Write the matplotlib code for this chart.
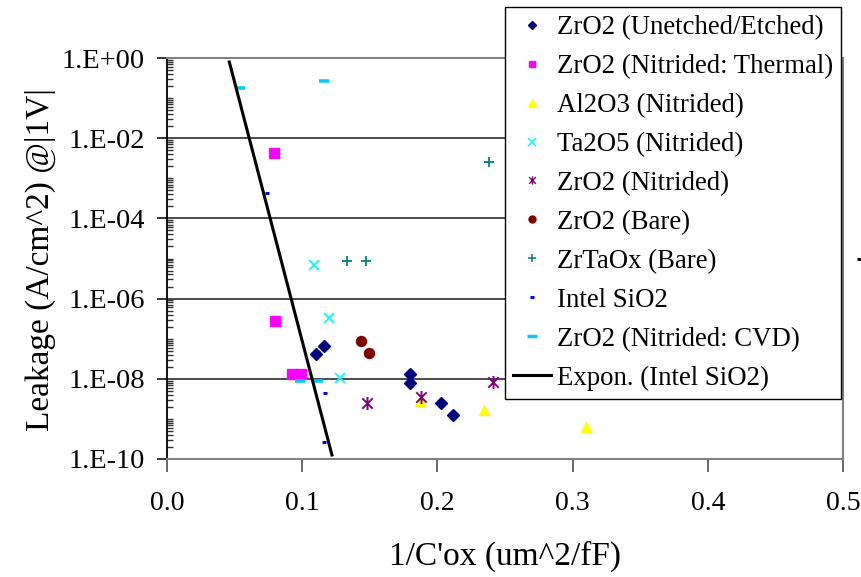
import numpy as np
import matplotlib
matplotlib.use("Agg")
import matplotlib.pyplot as plt
from matplotlib.lines import Line2D
from matplotlib.path import Path
from matplotlib.ticker import FixedLocator, LogLocator, FuncFormatter, NullFormatter

plt.rcParams['font.family'] = ['Liberation Serif', 'DejaVu Serif']

# ---- data: 1/C'ox (um^2/fF) vs leakage current density (A/cm^2) at |1V| ----
zro2_etched_x = [0.1104, 0.1158, 0.1795, 0.1795, 0.2027, 0.2113]
zro2_etched_y = [4.2e-8, 6.5e-8, 1.3e-8, 8.0e-9, 2.5e-9, 1.26e-9]

zro2_thermal_x = [0.0793, 0.0800, 0.0924, 0.0990]
zro2_thermal_y = [4.3e-3, 2.75e-7, 1.3e-8, 1.3e-8]

al2o3_x = [0.1874, 0.2346, 0.3100]
al2o3_y = [2.8e-9, 1.7e-9, 6.2e-10]

ta2o5_x = [0.1084, 0.1200, 0.1280]
ta2o5_y = [6.9e-6, 3.3e-7, 1.07e-8]

zro2_nitrided_x = [0.1480, 0.1879, 0.2412]
zro2_nitrided_y = [2.5e-9, 3.5e-9, 8.1e-9]

zro2_bare_x = [0.1432, 0.1494]
zro2_bare_y = [8.9e-8, 4.5e-8]

zrtaox_x = [0.1330, 0.1474, 0.2380]
zrtaox_y = [8.7e-6, 8.7e-6, 2.5e-3]

intel_x = [0.0738, 0.1165, 0.1163]
intel_y = [4.3e-4, 4.4e-9, 2.6e-10]

zro2_cvd_x = [0.0540, 0.1163, 0.0985, 0.1116]
zro2_cvd_y = [0.175, 0.267, 8.9e-9, 8.9e-9]

# exponential trendline through the Intel SiO2 points (end points)
trend_x = [0.0461, 0.1220]
trend_y = [0.795, 1.26e-10]

# stray marker just right of the plot frame
stray_x = [0.5119]
stray_y = [1.0e-5]

labels = ["ZrO2 (Unetched/Etched)", "ZrO2 (Nitrided: Thermal)", "Al2O3 (Nitrided)",
          "Ta2O5 (Nitrided)", "ZrO2 (Nitrided)", "ZrO2 (Bare)", "ZrTaOx (Bare)",
          "Intel SiO2", "ZrO2 (Nitrided: CVD)", "Expon. (Intel SiO2)"]

x_ticks = [0.0, 0.1, 0.2, 0.3, 0.4, 0.5]
y_major = [1e0, 1e-2, 1e-4, 1e-6, 1e-8, 1e-10]

# asterisk: an X crossed by a vertical bar
ast = Path([(0, -1), (0, 1), (-0.8, -0.8), (0.8, 0.8), (-0.8, 0.8), (0.8, -0.8)],
           [Path.MOVETO, Path.LINETO, Path.MOVETO, Path.LINETO, Path.MOVETO, Path.LINETO])

W, H = 861, 577
fig = plt.figure(figsize=(W / 100, H / 100), dpi=100)
L, R, T, B = 167, 843, 58, 459
ax = fig.add_axes([L / W, 1 - B / H, (R - L) / W, (B - T) / H])

ax.set_xlim(0, 0.5)
ax.set_yscale('log')
ax.set_ylim(1e-10, 1)

for yv in y_major:
    ax.axhline(yv, color='#1a1a1a', lw=1.1, zorder=1)

navy, magenta, yellow, cyan = '#000080', '#FF00FF', '#FFFF00', '#00FFFF'
purple, darkred, teal, blue, sky = '#800080', '#800000', '#008080', '#0000FF', '#00CCFF'

ms_px = 0.72  # points per pixel at 100 dpi
ax.plot(zro2_etched_x, zro2_etched_y, ls='none', marker='D', ms=8.5 * ms_px, color=navy, zorder=3)
ax.plot(zro2_thermal_x, zro2_thermal_y, ls='none', marker='s', ms=10 * ms_px, color=magenta, zorder=3)
ax.plot(al2o3_x, al2o3_y, ls='none', marker='^', ms=10 * ms_px, color=yellow, zorder=3)
ax.plot(ta2o5_x, ta2o5_y, ls='none', marker='x', ms=10 * ms_px, mew=1.3, color=cyan, zorder=3)
ax.plot(zro2_nitrided_x, zro2_nitrided_y, ls='none', marker=ast, ms=13 * ms_px, mew=1.4,
        color=purple, zorder=4)
ax.plot(zro2_bare_x, zro2_bare_y, ls='none', marker='o', ms=10 * ms_px, color=darkred, zorder=3)
ax.plot(zrtaox_x, zrtaox_y, ls='none', marker='+', ms=10 * ms_px, mew=1.3, color=teal, zorder=3)
ax.plot(intel_x, intel_y, ls='none', marker='_', ms=5 * ms_px, mew=3 * ms_px, color=blue, zorder=3)
ax.plot(zro2_cvd_x, zro2_cvd_y, ls='none', marker='_', ms=10 * ms_px, mew=3.5 * ms_px,
        color=sky, zorder=3)
ax.plot(trend_x, trend_y, color='black', lw=2.2, zorder=5)
ax.plot(stray_x, stray_y, ls='none', marker='_', ms=5 * ms_px, mew=3 * ms_px, color='black',
        clip_on=False)

# axes styling
for side in ['top', 'right', 'bottom']:
    ax.spines[side].set_color('#808080')
    ax.spines[side].set_linewidth(1.5)
ax.spines['left'].set_color('black')
ax.spines['left'].set_linewidth(1.3)

ax.xaxis.set_major_locator(FixedLocator(x_ticks))
ax.xaxis.set_major_formatter(FuncFormatter(lambda v, p: f"{v:.1f}"))
ax.yaxis.set_major_locator(FixedLocator(y_major))
ax.yaxis.set_major_formatter(FuncFormatter(lambda v, p: f"1.E{int(round(np.log10(v))):+03d}"))
ax.yaxis.set_minor_locator(LogLocator(base=10, subs=np.arange(1, 10), numticks=100))
ax.yaxis.set_minor_formatter(NullFormatter())

ax.tick_params(axis='x', which='major', direction='out', length=9, width=1.1,
               color='#404040', labelsize=20, pad=14)
ax.tick_params(axis='y', which='major', direction='out', length=7, width=1.1,
               color='black', labelsize=20.5, pad=9)
ax.tick_params(axis='y', which='minor', direction='in', length=4, width=1.0, color='#303030')

fig.text(40 / W, 1 - 260 / H, "Leakage (A/cm^2) @|1V|", rotation=90, ha='center',
         va='center', fontsize=24)
fig.text(505 / W, 1 - 556 / H, "1/C'ox (um^2/fF)", ha='center', va='center', fontsize=24)

# legend with small markers
handles = [
    Line2D([], [], ls='none', marker='D', ms=4, color=navy),
    Line2D([], [], ls='none', marker='s', ms=5, color=magenta),
    Line2D([], [], ls='none', marker='^', ms=5.5, color=yellow),
    Line2D([], [], ls='none', marker='x', ms=5.5, mew=1.1, color=cyan),
    Line2D([], [], ls='none', marker=ast, ms=6, mew=1.0, color=purple),
    Line2D([], [], ls='none', marker='o', ms=5, color=darkred),
    Line2D([], [], ls='none', marker='+', ms=6, mew=1.1, color=teal),
    Line2D([], [], ls='none', marker='_', ms=3.5, mew=2.2, color=blue),
    Line2D([], [], ls='none', marker='_', ms=6.5, mew=2.5, color=sky),
    Line2D([], [], color='black', lw=2.2),
]
leg = fig.legend(handles, labels, loc='upper left', bbox_to_anchor=(505 / W, 1 - 7 / H),
                 fontsize=19.3, frameon=True, fancybox=False, framealpha=1,
                 edgecolor='black', borderpad=0.3, labelspacing=0.52,
                 handlelength=1.4, handletextpad=0.25, borderaxespad=0)
leg.get_frame().set_linewidth(1.0)

fig.savefig("out.png", dpi=100)
